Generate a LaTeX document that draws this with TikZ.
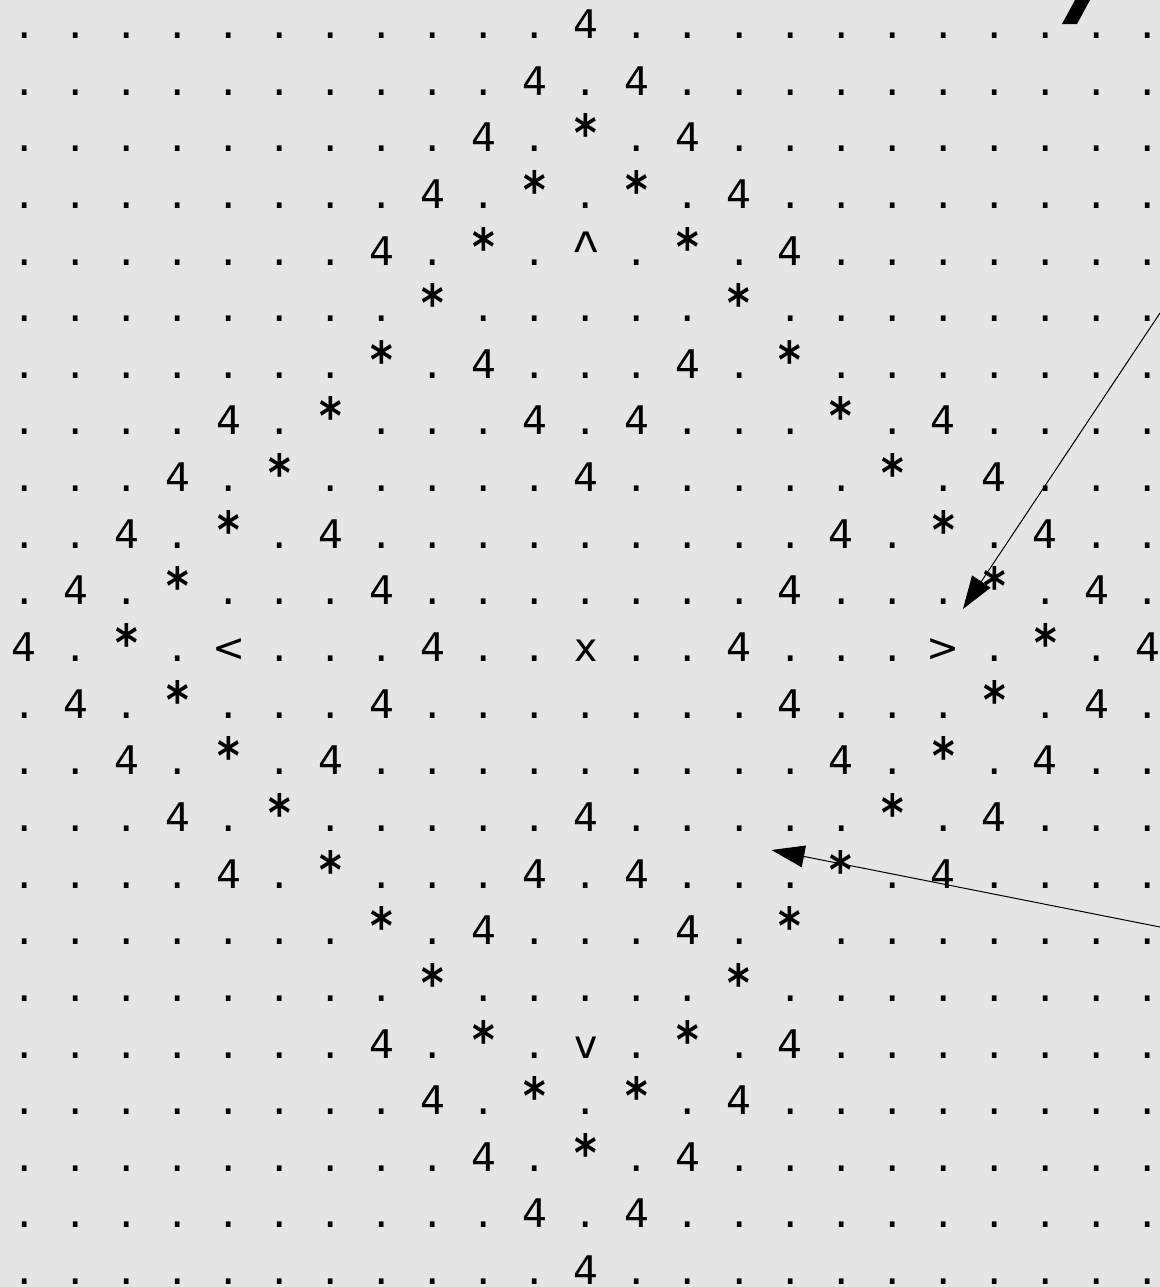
\documentclass[tikz,border=0pt]{standalone}
\usepackage{fontspec}
\setmainfont{DejaVu Sans}
\newfontfamily\capfont{Liberation Sans}
\usetikzlibrary{arrows.meta}
\definecolor{bggray}{RGB}{229,229,229}
\newcommand{\hatch}{\raisebox{-3.2pt}{\scalebox{1}[1.15]{\capfont\fontsize{25pt}{25pt}\selectfont\textasciicircum}}}
% dots and stars are a little bigger than the font gives
\def\glyphdot{.}
\def\glyphstar{*}
\newcommand{\glyph}[1]{\def\glyphtmp{#1}%
  \ifx\glyphtmp\glyphdot\scalebox{1.15}{.}%
  \else\ifx\glyphtmp\glyphstar\scalebox{1.1}[1.3]{\bfseries *}%
  \else #1\fi\fi}

\begin{document}
\begin{tikzpicture}[
    x=0.5pt, y=-0.5pt,
    cell/.style={anchor=base,inner sep=0pt,font=\fontsize{19.7pt}{20pt}\selectfont},
    pointer/.style={-{Triangle[length=16.5pt,width=11pt]},line width=0.5pt}
]
  % Background and page size
  \fill[bggray] (0,0) rectangle (1160,1287);
  \useasboundingbox (0,0) rectangle (1160,1287);

  % Character grid, one list per row
  \foreach \r/\row in {
    0/{.,.,.,.,.,.,.,.,.,.,.,4,.,.,.,.,.,.,.,.,.,.,.},
    1/{.,.,.,.,.,.,.,.,.,.,4,.,4,.,.,.,.,.,.,.,.,.,.},
    2/{.,.,.,.,.,.,.,.,.,4,.,*,.,4,.,.,.,.,.,.,.,.,.},
    3/{.,.,.,.,.,.,.,.,4,.,*,.,*,.,4,.,.,.,.,.,.,.,.},
    4/{.,.,.,.,.,.,.,4,.,*,.,\hatch,.,*,.,4,.,.,.,.,.,.,.},
    5/{.,.,.,.,.,.,.,.,*,.,.,.,.,.,*,.,.,.,.,.,.,.,.},
    6/{.,.,.,.,.,.,.,*,.,4,.,.,.,4,.,*,.,.,.,.,.,.,.},
    7/{.,.,.,.,4,.,*,.,.,.,4,.,4,.,.,.,*,.,4,.,.,.,.},
    8/{.,.,.,4,.,*,.,.,.,.,.,4,.,.,.,.,.,*,.,4,.,.,.},
    9/{.,.,4,.,*,.,4,.,.,.,.,.,.,.,.,.,4,.,*,.,4,.,.},
    10/{.,4,.,*,.,.,.,4,.,.,.,.,.,.,.,4,.,.,.,*,.,4,.},
    11/{4,.,*,.,<,.,.,.,4,.,.,x,.,.,4,.,.,.,>,.,*,.,4},
    12/{.,4,.,*,.,.,.,4,.,.,.,.,.,.,.,4,.,.,.,*,.,4,.},
    13/{.,.,4,.,*,.,4,.,.,.,.,.,.,.,.,.,4,.,*,.,4,.,.},
    14/{.,.,.,4,.,*,.,.,.,.,.,4,.,.,.,.,.,*,.,4,.,.,.},
    15/{.,.,.,.,4,.,*,.,.,.,4,.,4,.,.,.,*,.,4,.,.,.,.},
    16/{.,.,.,.,.,.,.,*,.,4,.,.,.,4,.,*,.,.,.,.,.,.,.},
    17/{.,.,.,.,.,.,.,.,*,.,.,.,.,.,*,.,.,.,.,.,.,.,.},
    18/{.,.,.,.,.,.,.,4,.,*,.,v,.,*,.,4,.,.,.,.,.,.,.},
    19/{.,.,.,.,.,.,.,.,4,.,*,.,*,.,4,.,.,.,.,.,.,.,.},
    20/{.,.,.,.,.,.,.,.,.,4,.,*,.,4,.,.,.,.,.,.,.,.,.},
    21/{.,.,.,.,.,.,.,.,.,.,4,.,4,.,.,.,.,.,.,.,.,.,.},
    22/{.,.,.,.,.,.,.,.,.,.,.,4,.,.,.,.,.,.,.,.,.,.,.}}
    \foreach \ch [count=\c from 0] in \row
      \node[cell] (g-\c-\r) at ({24.5+51.05*\c},{38.5+56.64*\r})
        {\expandafter\glyph\expandafter{\ch}};

  % Stroke cut by the top edge
  \fill (1062,24) -- (1077,24) -- (1090,0) -- (1075,0) -- cycle;

  % Pointers coming in from the right edge
  \coordinate (upstart) at (1160,313);
  \coordinate (uptip) at (963,609);
  \coordinate (lowstart) at (1160,927);
  \coordinate (lowtip) at (771.5,850);
  \draw[pointer] (upstart) -- (uptip);
  \draw[pointer] (lowstart) -- (lowtip);

\end{tikzpicture}
\end{document}
